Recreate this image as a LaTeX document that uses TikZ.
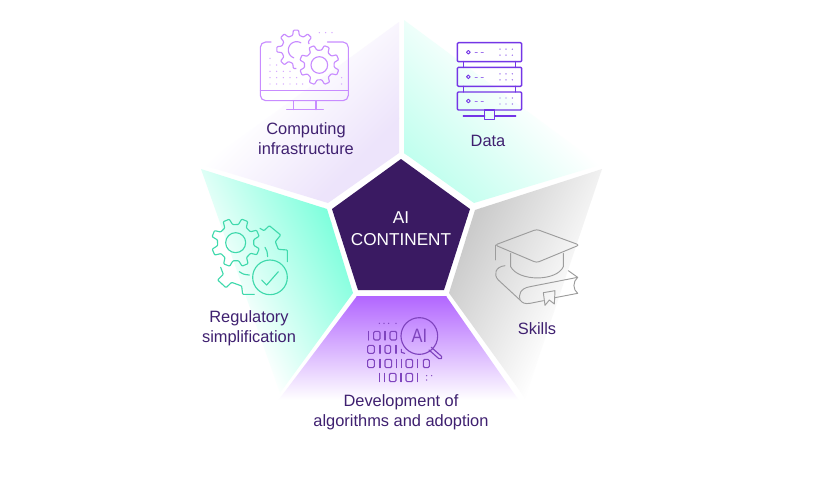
\documentclass[tikz,border=0pt]{standalone}
\usepackage{fontspec}
\setmainfont{Liberation Sans}
\definecolor{deep}{HTML}{3A1A62}
\definecolor{labelc}{HTML}{3F2070}
\definecolor{mintA}{HTML}{C0FFEE}
\definecolor{mintB}{HTML}{80FFDD}
\definecolor{lav}{HTML}{EDE4FB}
\definecolor{greyA}{HTML}{CBCBCB}
\definecolor{violet}{HTML}{B266FF}
\definecolor{iconlav}{HTML}{C88CFF}
\definecolor{iconsrv}{HTML}{7436E6}
\definecolor{iconai}{HTML}{7F44BE}
\definecolor{iconmint}{HTML}{3FD9AC}
\definecolor{icongrey}{HTML}{9C9C9C}
\tikzset{
  label text/.style={text=labelc,align=center,inner sep=0pt,font=\fontsize{12.3}{15}\selectfont},
  centre text/.style={text=white,align=center,inner sep=0pt,font=\fontsize{12.9}{16}\selectfont},
  icon/.style={line width=0.85pt,line join=round,line cap=round},
}
% #1 polygon path, #2,#3 start point, #4,#5 end point, #6 start colour, #7 end colour
\newcommand{\gradfill}[7]{%
  \pgfmathsetmacro{\gang}{atan2(-(#5-#3),#4-#2)}%
  \pgfmathsetmacro{\glen}{veclen(#4-#2,#5-#3)}%
  \begin{scope}
    \clip #1;
    \begin{scope}[transform canvas={shift={(#2,#3)},rotate=\gang}]
      \fill[#6] (-600,-600) rectangle (0.5,600);
      \fill[#7] (\glen-0.5,-600) rectangle (600,600);
      \shade[left color=#6,right color=#7] (0,-600) rectangle (\glen,600);
    \end{scope}
  \end{scope}}
% centre x, centre y, root radius, outer radius, teeth, phase
\newcommand{\drawgear}[6]{%
  \pgfmathsetmacro{\gp}{360/#5}%
  \draw[rounded corners=.6pt]
  ({#1+#3*cos(#6-.30*\gp)},{#2+#3*sin(#6-.30*\gp)})
  \foreach \k in {1,...,#5}{
    -- ({#1+#3*cos(#6+(\k-1)*\gp-.30*\gp)},{#2+#3*sin(#6+(\k-1)*\gp-.30*\gp)})
    -- ({#1+#4*cos(#6+(\k-1)*\gp-.17*\gp)},{#2+#4*sin(#6+(\k-1)*\gp-.17*\gp)})
    -- ({#1+#4*cos(#6+(\k-1)*\gp+.17*\gp)},{#2+#4*sin(#6+(\k-1)*\gp+.17*\gp)})
    -- ({#1+#3*cos(#6+(\k-1)*\gp+.30*\gp)},{#2+#3*sin(#6+(\k-1)*\gp+.30*\gp)})
  } -- cycle;}
\newcommand{\zerobit}[4]{\draw[icon,rounded corners=1pt] (#1,#3) rectangle (#2,#4);}
\newcommand{\onebit}[3]{\draw[icon] (#1,#2) -- (#1,#3);}
\begin{document}
\begin{tikzpicture}[x=0.75pt,y=-0.75pt]
\useasboundingbox (0,0) rectangle (814,494);
\fill[white] (0,0) rectangle (814,494);

% sectors
\gradfill{(399,22) -- (399,153) -- (328,203) -- (203,165) -- cycle}{203}{165}{278}{240}{white}{lav}
\gradfill{(404,20) -- (404,153) -- (474,203) -- (600,165) -- cycle}{600}{165}{508}{257}{white}{mintA}
\gradfill{(201,169) -- (327,209) -- (353,293) -- (280,393) -- cycle}{265}{370}{377}{314}{white}{mintB}
\gradfill{(475,210) -- (602,169) -- (525,398) -- (449,293) -- cycle}{540}{370}{428}{314}{white}{greyA}
\gradfill{(357,296) -- (446,296) -- (520,402) -- (277,402) -- cycle}{400}{400}{400}{296}{white}{violet}

% centre
\fill[deep] (401,159) -- (470,209) -- (444,290) -- (358,290) -- (332,209) -- cycle;
\node[centre text] (centre) at (401,228.5) {AI\\[1pt]CONTINENT};

% computing icon
\begin{scope}[shift={(190,10)},x=0.25pt,y=-0.25pt,icon,draw=iconlav]
  \draw[rounded corners=4pt] (243,96) -- (211,96) -- (211,272) -- (475,272) -- (475,96) -- (412,96);
  \draw (211,241) -- (475,241);
  \draw (310,272) -- (310,299) (378,272) -- (378,299) (290,299) -- (400,299);
  \drawgear{388}{165}{45}{60}{8}{22}
  \draw (388,165) circle[radius=25];
  \begin{scope}[even odd rule]
    \clip (-500,-500) rectangle (1000,1000) (388,165) circle[radius=70];
    \drawgear{318}{118}{43}{58}{8}{0}
  \end{scope}
  \draw plot[smooth,domain=-60:-250,samples=25] ({320+25*cos(\x)},{120+25*sin(\x)});
  \foreach \px/\py in {240/145,240/165,260/165,240/184,260/184,280/184,300/184,240/203,260/203,280/203,300/203,320/203,240/222,260/222,280/222,300/222,320/222,338/222,455/203,455/222,388/68,407/68,426/68}
    \fill[iconlav!80] (\px,\py) circle[radius=2.2];
\end{scope}
\node[label text] (computing) at (306,139) {Computing\\infrastructure};

% data icon
\begin{scope}[shift={(400,10)},x=0.25pt,y=-0.25pt,icon,line width=1.05pt,draw=iconsrv]
  \foreach \ya/\yb in {98/155,172/229,246/300}{
    \draw[rounded corners=.8pt] (172,\ya) rectangle (365,\yb);
    \pgfmathsetmacro{\ym}{(\ya+\yb)/2}
    \draw[line width=.7pt] (205,\ym) circle[radius=5.5];
    \draw[line width=.5pt,iconsrv!70] (225,\ym) -- (232,\ym) (243,\ym) -- (250,\ym);
    \foreach \dx in {300,318,337}\foreach \dy in {-9,9}
      \fill[iconsrv!80] (\dx,\ym+\dy) circle[radius=2.2];
  }
  \draw (190,155) -- (190,172) (347,155) -- (347,172) (190,229) -- (190,246) (347,229) -- (347,246);
  \draw (254,300) rectangle (284,328);
  \draw (190,318) -- (254,318) (284,318) -- (347,318);
\end{scope}
\node[label text] (data) at (488,141) {Data};

% regulatory icon
\begin{scope}[shift={(190,160)},x=0.25pt,y=-0.25pt,icon,draw=iconmint]
  \drawgear{137}{248}{55}{73}{8}{22}
  \draw (137,248) circle[radius=30];
  \draw[rounded corners=.6pt] (210,205) -- (222,212) -- (238,197) -- (272,225) -- (256,245) -- (265,268) -- (292,270) -- (292,305);
  \draw[rounded corners=.6pt] (92,322) -- (100,343) -- (83,360) -- (108,383) -- (125,367) -- (155,378) -- (158,403) -- (193,403);
  \draw (225,262) .. controls (231,272) .. (233,290);
  \draw (148,335) .. controls (160,343) .. (178,345);
  \draw (240,352) circle[radius=52];
  \draw (215,360) -- (230,375) -- (265,335);
\end{scope}
\node[label text] (regulatory) at (249,328) {Regulatory\\simplification};

% skills icon
\begin{scope}[shift={(440,160)},x=0.25pt,y=-0.25pt,icon,line width=.7pt,draw=icongrey]
  \draw[rounded corners=2pt] (290,208) -- (418,255) -- (290,308) -- (165,255) -- cycle;
  \draw (165,255) -- (165,300);
  \draw (212,280) -- (212,320) .. controls (235,365) and (350,365) .. (370,320) -- (370,280);
  \draw (195,317) .. controls (165,320) and (160,345) .. (175,360) -- (240,420) .. controls (248,430) and (255,432) .. (270,430) -- (310,422);
  \draw (345,413) -- (413,400);
  \draw (385,332) -- (413,352) -- (270,380) .. controls (240,385) and (235,405) .. (240,420);
  \draw (413,352) .. controls (398,365) and (398,388) .. (413,400);
  \draw (310,398) -- (345,392) -- (343,432) -- (328,420) -- (315,436) -- cycle;
\end{scope}
\node[label text] (skills) at (537,329) {Skills};

% development icon
\begin{scope}[shift={(270,290)},x=0.25pt,y=-0.25pt,icon,draw=iconai]
  \draw (448,138) circle[radius=55];
  \draw[rounded corners=1.2pt] (484,172) -- (518,202) -- (510,209) -- (477,180);
  \onebit{295}{124}{150} \zerobit{311}{330}{124}{150} \onebit{345}{124}{150} \zerobit{360}{380}{124}{150}
  \zerobit{293}{313}{166}{190} \onebit{330}{166}{190} \zerobit{345}{362}{166}{190} \onebit{378}{166}{190}
  \draw (394,178) -- (394,187) -- (404,190);
  \zerobit{293}{313}{208}{233} \onebit{330}{208}{233} \zerobit{345}{365}{208}{233} \onebit{380}{208}{233}
  \onebit{394}{208}{233} \zerobit{408}{428}{208}{233} \onebit{443}{208}{233} \zerobit{460}{478}{208}{233}
  \onebit{328}{250}{275} \onebit{343}{250}{275} \zerobit{358}{378}{250}{275} \onebit{393}{250}{275}
  \zerobit{408}{428}{250}{275} \onebit{443}{250}{275}
  \foreach \px/\py in {328/100,342/100,356/100,378/100,470/257,470/270,485/257}
    \fill[iconai] (\px,\py) circle[radius=2.2];
\end{scope}
\node[text=iconai,inner sep=0pt,xscale=.85,font=\fontsize{14.5}{16}\selectfont] (ailens) at (419.5,336) {AI};
\node[label text] (development) at (401,412.5) {Development of\\algorithms and adoption};
\end{tikzpicture}
\end{document}
